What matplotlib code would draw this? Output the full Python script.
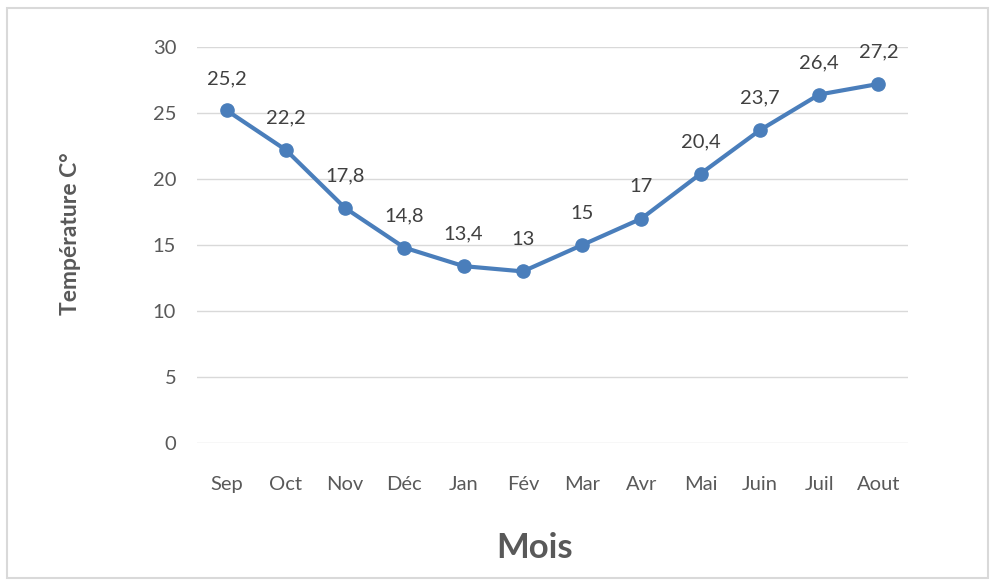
import matplotlib.pyplot as plt
from matplotlib.patches import Rectangle

mois = ['Sep', 'Oct', 'Nov', 'Déc', 'Jan', 'Fév', 'Mar', 'Avr', 'Mai', 'Juin', 'Juil', 'Aout']
temperature = [25.2, 22.2, 17.8, 14.8, 13.4, 13, 15, 17, 20.4, 23.7, 26.4, 27.2]

plt.rcParams['font.family'] = ['Lato', 'DejaVu Sans']
gris = '#595959'

fig = plt.figure(figsize=(9.95, 5.81), dpi=100)
ax = fig.add_axes([0.198, 0.2375, 0.7146, 0.6816])

x = range(len(mois))
ax.plot(x, temperature, color='#4a7ebb', linewidth=3, marker='o', markersize=9.5, zorder=3)

for i, t in enumerate(temperature):
    label = f"{t:g}".replace('.', ',')
    ax.annotate(label, (i, t), xytext=(0, 23), textcoords='offset points',
                ha='center', va='center', fontsize=14.5, color='#404040')

ax.set_xlim(-0.5, len(mois) - 0.5)
ax.set_ylim(0, 30)
ax.set_yticks(range(0, 31, 5))
ax.set_xticks(list(x))
ax.set_xticklabels(mois)
ax.grid(axis='y', color='#d9d9d9', linewidth=1)
ax.set_axisbelow(True)
for s in ax.spines.values():
    s.set_visible(False)
ax.tick_params(length=0, labelsize=14.5, labelcolor=gris)
ax.tick_params(axis='x', pad=24)
ax.tick_params(axis='y', pad=15)

fig.text(0.071, 0.597, 'Température C°', rotation=90, ha='center', va='center',
         fontsize=16.5, fontweight='bold', color=gris)
fig.text(0.537, 0.057, 'Mois', ha='center', va='center',
         fontsize=25, fontweight='bold', color=gris)

fig.patches.append(Rectangle((0.007, 0.005), 0.986, 0.982, transform=fig.transFigure,
                             fill=False, edgecolor='#d9d9d9', linewidth=1.5))

fig.savefig('out.png', dpi=100)
